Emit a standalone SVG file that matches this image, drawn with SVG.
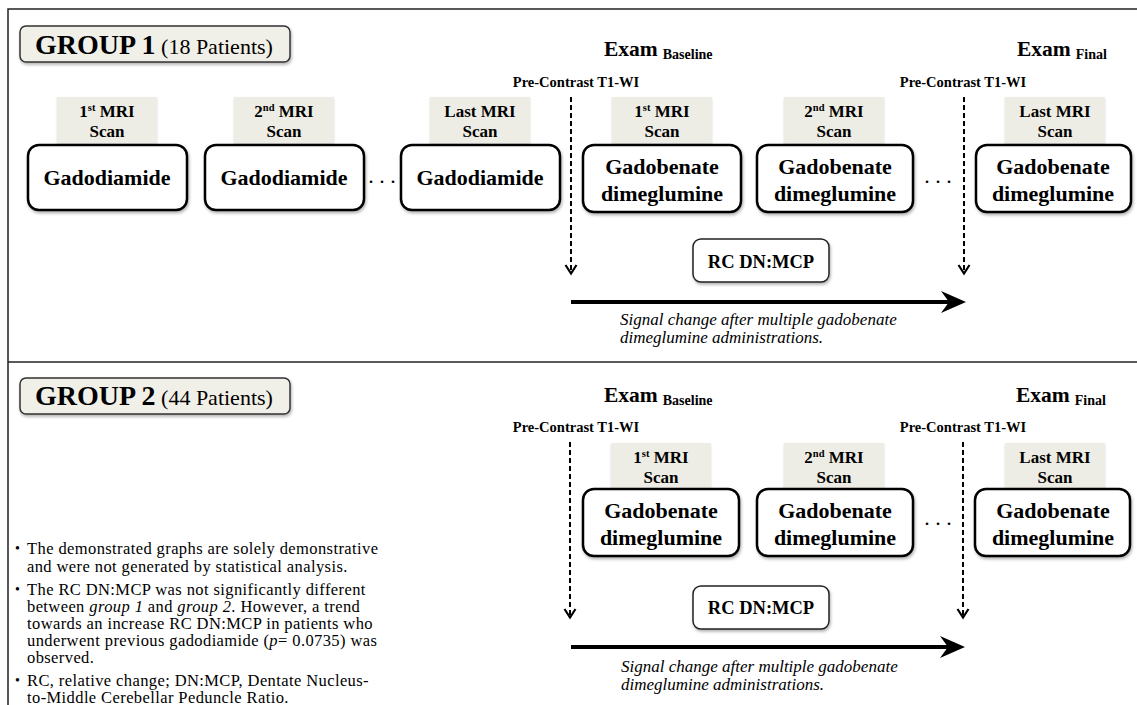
<svg xmlns="http://www.w3.org/2000/svg" width="1137" height="705" viewBox="0 0 1137 705">
<style>
text{font-family:"Liberation Serif","Times New Roman",serif;fill:#000}
.grp{font-weight:bold;font-size:28px}
.pat{font-size:22px}
.exam{font-weight:bold;font-size:21.5px}
.sub{font-weight:bold;font-size:14px}
.pre{font-weight:bold;font-size:14.5px;text-anchor:middle}
.lbl{font-weight:bold;font-size:17px;text-anchor:middle}
.sup{font-size:10.5px}
.drug{font-weight:bold;font-size:22px;text-anchor:middle}
.rc{font-weight:bold;font-size:18.5px;text-anchor:middle}
.sig{font-style:italic;font-size:17px}
.note{font-size:16.5px;letter-spacing:0.4px}
.bul{font-size:14px}
.it{font-style:italic}
.dots{font-size:22px;text-anchor:middle}
.box{fill:#fff;stroke:#000;stroke-width:2.5}
.lab{fill:#eeede5}
.gbox{fill:#f0efe8;stroke:#333;stroke-width:1.5}
.rcbox{fill:#fff;stroke:#222;stroke-width:1.5}
.frame{stroke:#222;stroke-width:1.5;fill:none}
.dash{stroke:#000;stroke-width:2;stroke-dasharray:5 3;fill:none}
.chev{stroke:#000;stroke-width:2.2;fill:none}
.solid{stroke:#000;stroke-width:4;fill:none}
</style>
<defs>
<filter id="sh" x="-10%" y="-10%" width="130%" height="140%">
<feDropShadow dx="1" dy="2" stdDeviation="1.5" flood-color="#000" flood-opacity="0.3"/>
</filter>
<filter id="sh2" x="-10%" y="-10%" width="130%" height="140%">
<feDropShadow dx="0" dy="1.5" stdDeviation="1" flood-color="#000" flood-opacity="0.15"/>
</filter>
</defs>
<rect width="1137" height="705" fill="#fff"/>
<g id="frame">
<path class="frame" d="M8 705 V9 H1137"/>
<path class="frame" d="M8 362 H1137"/>
</g>

<!-- GROUP 1 -->
<g id="g1-title"><rect class="gbox" x="20" y="26" width="270" height="36" rx="6" filter="url(#sh)"/><text x="35" y="54"><tspan class="grp">GROUP 1</tspan><tspan class="pat"> (18 Patients)</tspan></text></g>
<g id="g1-exam-baseline"><text x="604" y="56"><tspan class="exam">Exam</tspan><tspan class="sub" dx="5" dy="3">Baseline</tspan></text></g>
<g id="g1-exam-final"><text x="1017" y="56"><tspan class="exam">Exam</tspan><tspan class="sub" dx="5" dy="3">Final</tspan></text></g>
<g id="g1-pre1"><text class="pre" x="576" y="87">Pre-Contrast T1-WI</text></g>
<g id="g1-pre2"><text class="pre" x="963" y="87">Pre-Contrast T1-WI</text></g>

<g id="g1-scan1"><rect class="lab" x="57" y="97" width="100" height="46" filter="url(#sh2)"/><text class="lbl" x="107" y="117">1<tspan class="sup" dy="-6">st</tspan><tspan dy="6"> MRI</tspan></text><text class="lbl" x="107" y="137">Scan</text>
<rect class="box" x="28" y="145" width="159" height="65" rx="11" filter="url(#sh)"/><text class="drug" x="107" y="185">Gadodiamide</text></g>
<g id="g1-scan2"><rect class="lab" x="234" y="97" width="100" height="46" filter="url(#sh2)"/><text class="lbl" x="284" y="117">2<tspan class="sup" dy="-6">nd</tspan><tspan dy="6"> MRI</tspan></text><text class="lbl" x="284" y="137">Scan</text>
<rect class="box" x="205" y="145" width="159" height="65" rx="11" filter="url(#sh)"/><text class="drug" x="284" y="185">Gadodiamide</text></g>
<g id="g1-dots1"><text class="dots" x="382" y="183">. . .</text></g>
<g id="g1-scan3"><rect class="lab" x="430" y="97" width="100" height="46" filter="url(#sh2)"/><text class="lbl" x="480" y="117">Last MRI</text><text class="lbl" x="480" y="137">Scan</text>
<rect class="box" x="401" y="145" width="159" height="65" rx="11" filter="url(#sh)"/><text class="drug" x="480" y="185">Gadodiamide</text></g>
<g id="g1-scan4"><rect class="lab" x="612" y="97" width="100" height="46" filter="url(#sh2)"/><text class="lbl" x="662" y="117">1<tspan class="sup" dy="-6">st</tspan><tspan dy="6"> MRI</tspan></text><text class="lbl" x="662" y="137">Scan</text>
<rect class="box" x="583" y="145" width="158" height="67" rx="11" filter="url(#sh)"/><text class="drug" x="662" y="174">Gadobenate</text><text class="drug" x="662" y="201">dimeglumine</text></g>
<g id="g1-scan5"><rect class="lab" x="784" y="97" width="100" height="46" filter="url(#sh2)"/><text class="lbl" x="834" y="117">2<tspan class="sup" dy="-6">nd</tspan><tspan dy="6"> MRI</tspan></text><text class="lbl" x="834" y="137">Scan</text>
<rect class="box" x="757" y="145" width="156" height="67" rx="11" filter="url(#sh)"/><text class="drug" x="835" y="174">Gadobenate</text><text class="drug" x="835" y="201">dimeglumine</text></g>
<g id="g1-dots2"><text class="dots" x="938" y="183">. . .</text></g>
<g id="g1-scan6"><rect class="lab" x="1005" y="97" width="100" height="46" filter="url(#sh2)"/><text class="lbl" x="1055" y="117">Last MRI</text><text class="lbl" x="1055" y="137">Scan</text>
<rect class="box" x="976" y="145" width="155" height="67" rx="11" filter="url(#sh)"/><text class="drug" x="1053" y="174">Gadobenate</text><text class="drug" x="1053" y="201">dimeglumine</text></g>
<g id="g1-rc"><rect class="rcbox" x="693" y="239" width="136" height="43" rx="8" filter="url(#sh)"/><text class="rc" x="761" y="268">RC DN:MCP</text></g>
<g id="g1-signal"><text class="sig" x="620" y="325">Signal change after multiple gadobenate</text><text class="sig" x="620" y="343">dimeglumine administrations.</text></g>

<!-- GROUP 2 -->
<g id="g2-title"><rect class="gbox" x="20" y="378" width="270" height="36" rx="6" filter="url(#sh)"/><text x="35" y="405"><tspan class="grp">GROUP 2</tspan><tspan class="pat"> (44 Patients)</tspan></text></g>
<g id="g2-exam-baseline"><text x="604" y="402"><tspan class="exam">Exam</tspan><tspan class="sub" dx="5" dy="3">Baseline</tspan></text></g>
<g id="g2-exam-final"><text x="1016" y="402"><tspan class="exam">Exam</tspan><tspan class="sub" dx="5" dy="3">Final</tspan></text></g>
<g id="g2-pre1"><text class="pre" x="576" y="432">Pre-Contrast T1-WI</text></g>
<g id="g2-pre2"><text class="pre" x="963" y="432">Pre-Contrast T1-WI</text></g>
<g id="g2-scan1"><rect class="lab" x="611" y="443" width="100" height="46" filter="url(#sh2)"/><text class="lbl" x="661" y="463">1<tspan class="sup" dy="-6">st</tspan><tspan dy="6"> MRI</tspan></text><text class="lbl" x="661" y="483">Scan</text>
<rect class="box" x="583" y="489" width="156" height="67" rx="11" filter="url(#sh)"/><text class="drug" x="661" y="518">Gadobenate</text><text class="drug" x="661" y="545">dimeglumine</text></g>
<g id="g2-scan2"><rect class="lab" x="784" y="443" width="100" height="46" filter="url(#sh2)"/><text class="lbl" x="834" y="463">2<tspan class="sup" dy="-6">nd</tspan><tspan dy="6"> MRI</tspan></text><text class="lbl" x="834" y="483">Scan</text>
<rect class="box" x="757" y="489" width="156" height="67" rx="11" filter="url(#sh)"/><text class="drug" x="835" y="518">Gadobenate</text><text class="drug" x="835" y="545">dimeglumine</text></g>
<g id="g2-dots"><text class="dots" x="938" y="525">. . .</text></g>
<g id="g2-scan3"><rect class="lab" x="1005" y="443" width="100" height="46" filter="url(#sh2)"/><text class="lbl" x="1055" y="463">Last MRI</text><text class="lbl" x="1055" y="483">Scan</text>
<rect class="box" x="975" y="489" width="155" height="67" rx="11" filter="url(#sh)"/><text class="drug" x="1053" y="518">Gadobenate</text><text class="drug" x="1053" y="545">dimeglumine</text></g>
<g id="g2-rc"><rect class="rcbox" x="693" y="586" width="136" height="43" rx="8" filter="url(#sh)"/><text class="rc" x="761" y="614">RC DN:MCP</text></g>
<g id="g2-signal"><text class="sig" x="621" y="672">Signal change after multiple gadobenate</text><text class="sig" x="621" y="690">dimeglumine administrations.</text></g>

<g id="notes">
<text class="bul" x="15" y="553">•</text><text class="note" x="27" y="554">The demonstrated graphs are solely demonstrative</text>
<text class="note" x="27" y="572">and were not generated by statistical analysis.</text>
<text class="bul" x="15" y="594">•</text><text class="note" x="27" y="595">The RC DN:MCP was not significantly different</text>
<text class="note" x="27" y="612">between <tspan class="it">group 1</tspan> and <tspan class="it">group 2</tspan>. However, a trend</text>
<text class="note" x="27" y="629">towards an increase RC DN:MCP in patients who</text>
<text class="note" x="27" y="646">underwent previous gadodiamide (<tspan class="it">p</tspan>= 0.0735) was</text>
<text class="note" x="27" y="663">observed.</text>
<text class="bul" x="15" y="685">•</text><text class="note" x="27" y="686">RC, relative change; DN:MCP, Dentate Nucleus-</text>
<text class="note" x="27" y="703">to-Middle Cerebellar Peduncle Ratio.</text>
</g>

<g id="connectors">
<path class="dash" d="M571 97 V272"/><path class="chev" d="M565.5 265 L571 273.5 L576.5 265"/>
<path class="dash" d="M964 97 V272"/><path class="chev" d="M958.5 265 L964 273.5 L969.5 265"/>
<path class="solid" d="M571 302 H950"/><path d="M966 302 L941 291 L949 302 L941 313 Z" fill="#000"/>
<path class="dash" d="M570 442 V616"/><path class="chev" d="M564.5 609 L570 617.5 L575.5 609"/>
<path class="dash" d="M963 442 V616"/><path class="chev" d="M957.5 609 L963 617.5 L968.5 609"/>
<path class="solid" d="M571 647 H949"/><path d="M965 647 L940 636 L948 647 L940 658 Z" fill="#000"/>
</g>
</svg>
